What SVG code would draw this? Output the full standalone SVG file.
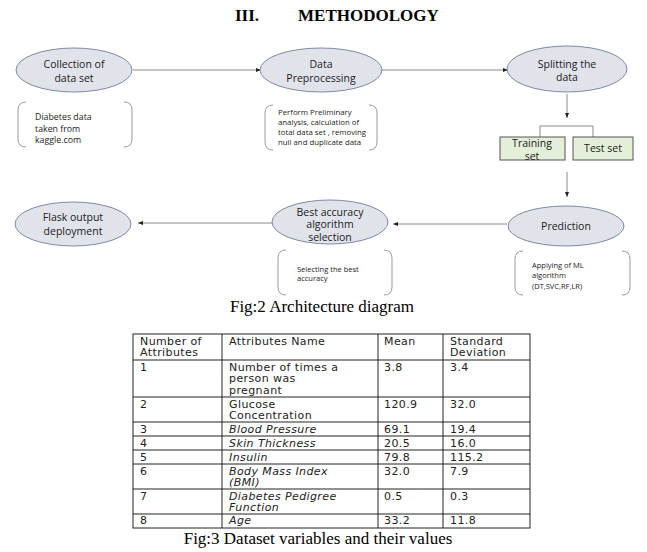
<svg xmlns="http://www.w3.org/2000/svg" width="647" height="552" viewBox="0 0 647 552">
<defs>
<marker id="ah" viewBox="0 0 10 10" refX="10" refY="5" markerWidth="5" markerHeight="5" orient="auto" markerUnits="userSpaceOnUse"><path d="M0,1 L10,5 L0,9 z" fill="#222"/></marker>
<style>
.ell{fill:#e0e3ea;stroke:#7d8aa2;stroke-width:1}
.en{font-family:"Open Sans","Liberation Sans",sans-serif;font-size:10.5px;fill:#222;text-anchor:middle}
.br{fill:none;stroke:#9a9a9a;stroke-width:1}
.bt{font-family:"Open Sans","Liberation Sans",sans-serif;fill:#222}
.con{fill:none;stroke:#8a8a8a;stroke-width:1}
.gb{fill:#e3efd9;stroke:#555;stroke-width:1}
.cap{font-family:"Liberation Serif","Times New Roman",serif;font-size:17px;fill:#000}
.tb{fill:none;stroke:#222;stroke-width:1}
.tt{font-family:"DejaVu Sans",Verdana,sans-serif;font-size:11px;letter-spacing:0.4px;fill:#222}
.it{font-style:italic}
</style>
</defs>
<rect width="647" height="552" fill="#fff"/>
<g id="title"><text class="cap" font-weight="bold" x="235" y="21">III.</text><text class="cap" font-weight="bold" x="298" y="21">METHODOLOGY</text></g>

<g id="connectors">
<line class="con" x1="133" y1="70" x2="261" y2="70" marker-end="url(#ah)"/>
<line class="con" x1="382" y1="70" x2="508" y2="70" marker-end="url(#ah)"/>
<line class="con" x1="567" y1="94" x2="567" y2="118" marker-end="url(#ah)"/>
<path class="con" d="M540,137 V126 H593 V137"/>
<line class="con" x1="567" y1="172" x2="567" y2="197" marker-end="url(#ah)"/>
<line class="con" x1="507" y1="224" x2="393" y2="224" marker-end="url(#ah)"/>
<line class="con" x1="272" y1="223" x2="138" y2="223" marker-end="url(#ah)"/>
</g>

<g id="n1"><ellipse class="ell" cx="74" cy="70" rx="58" ry="22"/><text class="en" x="74" y="68">Collection of</text><text class="en" x="74" y="82">data set</text></g>
<g id="b1"><path class="br" d="M26,102 Q18,102 18,110 V139 Q18,147 26,147 M124,102 Q132,102 132,110 V139 Q132,147 124,147"/><text class="bt" font-size="8.8" x="35" y="120">Diabetes data</text><text class="bt" font-size="8.8" x="35" y="131.5">taken from</text><text class="bt" font-size="8.8" x="35" y="143">kaggle.com</text></g>

<g id="n2"><ellipse class="ell" cx="321" cy="70" rx="61" ry="22"/><text class="en" x="321" y="68">Data</text><text class="en" x="321" y="82">Preprocessing</text></g>
<g id="b2"><path class="br" d="M273,105 Q265,105 265,113 V142 Q265,150 273,150 M369,105 Q377,105 377,113 V142 Q377,150 369,150"/><text class="bt" font-size="7.8" x="278" y="115">Perform Preliminary</text><text class="bt" font-size="7.8" x="278" y="125">analysis, calculation of</text><text class="bt" font-size="7.8" x="278" y="135">total data set , removing</text><text class="bt" font-size="7.8" x="278" y="145">null and duplicate data</text></g>

<g id="n3"><ellipse class="ell" cx="567" cy="69" rx="60" ry="23"/><text class="en" x="567" y="68">Splitting the</text><text class="en" x="567" y="81">data</text></g>

<g id="train"><rect class="gb" x="500" y="137" width="65" height="23"/><text class="en" x="532" y="147">Training</text><text class="en" x="532" y="160">set</text></g>
<g id="test"><rect class="gb" x="573" y="137" width="60" height="23"/><text class="en" x="603" y="152">Test set</text></g>

<g id="n4"><ellipse class="ell" cx="566" cy="226" rx="58" ry="20"/><text class="en" x="566" y="230">Prediction</text></g>
<g id="b4"><path class="br" d="M523,251 Q515,251 515,259 V287 Q515,295 523,295 M622,251 Q630,251 630,259 V287 Q630,295 622,295"/><text class="bt" font-size="7.5" x="532" y="268">Applying of ML</text><text class="bt" font-size="7.5" x="532" y="278">algorithm</text><text class="bt" font-size="7.5" x="532" y="289">(DT,SVC,RF,LR)</text></g>

<g id="n5"><ellipse class="ell" cx="330" cy="222" rx="58" ry="22"/><text class="en" font-size="10" x="330" y="215.5">Best accuracy</text><text class="en" font-size="10" x="330" y="228">algorithm</text><text class="en" font-size="10" x="330" y="240.5">selection</text></g>
<g id="b5"><path class="br" d="M286,250 Q278,250 278,258 V287 Q278,295 286,295 M384,250 Q392,250 392,258 V287 Q392,295 384,295"/><text class="bt" font-size="7.5" x="297" y="272">Selecting the best</text><text class="bt" font-size="7.5" x="297" y="281">accuracy</text></g>

<g id="n6"><ellipse class="ell" cx="73" cy="224" rx="58" ry="22"/><text class="en" x="73" y="221">Flask output</text><text class="en" x="73" y="235">deployment</text></g>

<text class="cap" x="322" y="312" text-anchor="middle">Fig:2 Architecture diagram</text>

<g id="table">
<rect class="tb" x="133" y="334" width="397" height="194"/>
<path class="tb" d="M222,334 V528 M378,334 V528 M443,334 V528 M133,360 H530 M133,397 H530 M133,422 H530 M133,436 H530 M133,450 H530 M133,464 H530 M133,489 H530 M133,514 H530"/>
<g class="tt">
<text x="140" y="344.5">Number of</text><text x="140" y="356">Attributes</text>
<text x="229" y="344.5">Attributes Name</text><text x="384" y="344.5">Mean</text>
<text x="450" y="344.5">Standard</text><text x="450" y="356">Deviation</text>
<text x="140" y="370.5">1</text><text x="229" y="370.5">Number of times a</text><text x="229" y="382">person was</text><text x="229" y="393.5">pregnant</text><text x="384" y="370.5">3.8</text><text x="450" y="370.5">3.4</text>
<text x="140" y="407.5">2</text><text x="229" y="407.5">Glucose</text><text x="229" y="419">Concentration</text><text x="384" y="407.5">120.9</text><text x="450" y="407.5">32.0</text>
<text x="140" y="432.5">3</text><text class="it" x="229" y="432.5">Blood Pressure</text><text x="384" y="432.5">69.1</text><text x="450" y="432.5">19.4</text>
<text x="140" y="446.5">4</text><text class="it" x="229" y="446.5">Skin Thickness</text><text x="384" y="446.5">20.5</text><text x="450" y="446.5">16.0</text>
<text x="140" y="460.5">5</text><text class="it" x="229" y="460.5">Insulin</text><text x="384" y="460.5">79.8</text><text x="450" y="460.5">115.2</text>
<text x="140" y="474.5">6</text><text class="it" x="229" y="474.5">Body Mass Index</text><text class="it" x="229" y="486">(BMI)</text><text x="384" y="474.5">32.0</text><text x="450" y="474.5">7.9</text>
<text x="140" y="499.5">7</text><text class="it" x="229" y="499.5">Diabetes Pedigree</text><text class="it" x="229" y="511">Function</text><text x="384" y="499.5">0.5</text><text x="450" y="499.5">0.3</text>
<text x="140" y="524">8</text><text class="it" x="229" y="524">Age</text><text x="384" y="524">33.2</text><text x="450" y="524">11.8</text>
</g>
</g>

<text class="cap" x="318" y="544" text-anchor="middle">Fig:3 Dataset variables and their values</text>
</svg>
